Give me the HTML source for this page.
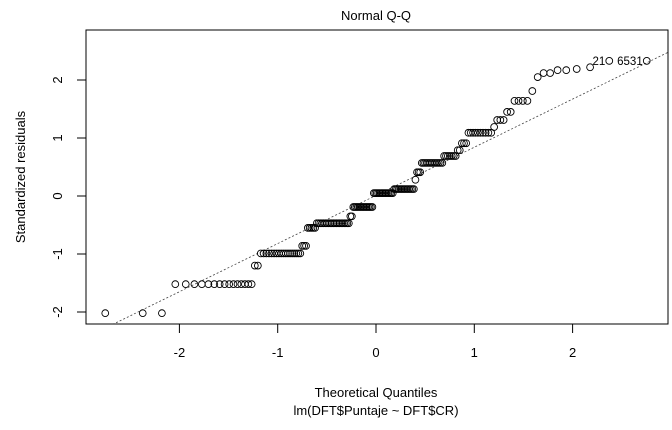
<!DOCTYPE html>
<html><head><meta charset="utf-8">
<style>
html,body{margin:0;padding:0;background:#fff;}
svg{display:block;font-family:"Liberation Sans",Arial,sans-serif;}
</style></head>
<body>
<svg id="chart" width="672" height="430" viewBox="0 0 672 430">
<rect x="0" y="0" width="672" height="430" fill="#fff"/>
<text x="376" y="20" font-size="13" text-anchor="middle">Normal Q-Q</text>
<text x="376" y="397" font-size="13" text-anchor="middle">Theoretical Quantiles</text>
<text x="376" y="415" font-size="13" text-anchor="middle">lm(DFT$Puntaje ~ DFT$CR)</text>
<text x="0" y="0" font-size="13" text-anchor="middle" transform="translate(25,177) rotate(-90)">Standardized residuals</text>
<g id="axes"></g>
<g id="pts"></g>
<rect x="86" y="30" width="582" height="294" fill="none" stroke="#000" stroke-width="1"/>
</svg>
<script>
const residLevels = [-2.02,-1.52,-1.2,-0.99,-0.86,-0.55,-0.47,-0.35,-0.19,0.05,0.12,0.28,0.41,0.57,0.69,0.79,0.91,1.09,1.19,1.31,1.45,1.64,1.81,2.05,2.12,2.17,2.19,2.22,2.33];
const residCounts = [3,15,2,18,3,5,21,2,14,14,14,1,3,13,7,2,3,10,1,3,2,4,1,1,2,2,1,1,2];
const pointLabels = {168:"21",169:"6531"};
const xTicks = [-2,-1,0,1,2];
const yTicks = [-2,-1,0,1,2];

const NS="http://www.w3.org/2000/svg";
const X0=86,X1=668,Y0=30,Y1=324;
function xs(v){return 376+98.3*v;}
function ys(v){return 196-58*v;}
function qnorm(p){
 const a=[-39.69683028665376,220.9460984245205,-275.9285104469687,138.3577518672690,-30.66479806614716,2.506628277459239];
 const b=[-54.47609879822406,161.5858368580409,-155.6989798598866,66.80131188771972,-13.28068155288572];
 const c=[-0.007784894002430293,-0.3223964580411365,-2.400758277161838,-2.549732539343734,4.374664141464968,2.938163982698783];
 const d=[0.007784695709041462,0.3224671290700398,2.445134137142996,3.754408661907416];
 let q,r;
 if(p<0.02425){q=Math.sqrt(-2*Math.log(p));return (((((c[0]*q+c[1])*q+c[2])*q+c[3])*q+c[4])*q+c[5])/((((d[0]*q+d[1])*q+d[2])*q+d[3])*q+1);}
 if(p>1-0.02425){q=Math.sqrt(-2*Math.log(1-p));return -(((((c[0]*q+c[1])*q+c[2])*q+c[3])*q+c[4])*q+c[5])/((((d[0]*q+d[1])*q+d[2])*q+d[3])*q+1);}
 q=p-0.5;r=q*q;return (((((a[0]*r+a[1])*r+a[2])*r+a[3])*r+a[4])*r+a[5])*q/(((((b[0]*r+b[1])*r+b[2])*r+b[3])*r+b[4])*r+1);
}
const resid=[];
residLevels.forEach((v,i)=>{for(let k=0;k<residCounts[i];k++)resid.push(v);});
resid.sort((a,b)=>a-b);
const n=resid.length;
const theo=resid.map((_,i)=>qnorm((i+0.5)/n));
function quant(arr,p){const h=(arr.length-1)*p,lo=Math.floor(h),hi=Math.ceil(h);return arr[lo]+(arr[hi]-arr[lo])*(h-lo);}
const ax=document.getElementById('axes');
function mk(tag,attrs,parent){const e=document.createElementNS(NS,tag);for(const k in attrs)e.setAttribute(k,attrs[k]);parent.appendChild(e);return e;}
xTicks.forEach(t=>{
 const l=mk('line',{x1:xs(t),x2:xs(t),y1:Y1,y2:Y1+9,stroke:'#000'},ax);
 
 
 const tx=mk('text',{x:xs(t),y:Y1+33,'font-size':13,'text-anchor':'middle'},ax);
 tx.textContent=String(t);
 
 
});
yTicks.forEach(t=>{
 const l=mk('line',{x1:X0-9,x2:X0,y1:ys(t),y2:ys(t),stroke:'#000'},ax);
 
 
 const tx=mk('text',{x:0,y:0,'font-size':13,'text-anchor':'middle',transform:'translate('+(X0-24)+','+ys(t)+') rotate(-90)'},ax);
 tx.textContent=String(t);
 
 
});
const y1=quant(resid,0.25),y2=quant(resid,0.75),x1=qnorm(0.25),x2=qnorm(0.75);
const slope=(y2-y1)/(x2-x1),inter=y1-slope*x1;
const xa=-2.9,xb=3.0;
const cp=mk('clipPath',{id:'clip'},document.getElementById('chart'));
mk('rect',{x:X0,y:Y0,width:X1-X0,height:Y1-Y0},cp);
const ql=mk('line',{x1:xs(xa),y1:ys(inter+slope*xa),x2:xs(xb),y2:ys(inter+slope*xb),stroke:'#444','stroke-width':0.8,'stroke-dasharray':'2,2','clip-path':'url(#clip)'},ax);


const pg=document.getElementById('pts');
resid.forEach((r,i)=>{
 const c=mk('circle',{cx:xs(theo[i]),cy:ys(r),r:3.4,fill:'none',stroke:'#000','stroke-width':0.9},pg);
 
 
 if(pointLabels[i]){
  const t=mk('text',{x:xs(theo[i])-4,y:ys(r)+4,'font-size':11.5,'text-anchor':'end'},pg);
  t.textContent=pointLabels[i];
  
  
 }
});
</script>
</body></html>
